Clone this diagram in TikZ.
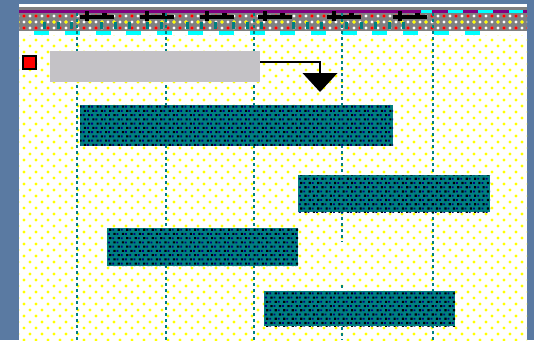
\documentclass[tikz,border=0pt]{standalone}
\usepackage{tikz}
\usetikzlibrary{positioning,shapes.geometric,patterns.meta}
\definecolor{deskblue}{HTML}{5A7AA2}
\definecolor{ganttteal}{HTML}{008080}
\definecolor{ganttnavy}{HTML}{000080}
\definecolor{summarygray}{HTML}{C4C2C6}
\definecolor{headpurple}{HTML}{800080}
\definecolor{headcyan}{HTML}{00FFFF}
\definecolor{dotyellow}{HTML}{FFFF00}
\tikzset{
  taskbar/.style={anchor=north west, inner sep=0pt, outer sep=0pt, fill=ganttteal,
    postaction={pattern={Dots[distance=6pt,radius=1.5pt,angle=45]}, pattern color=black},
    postaction={pattern={Dots[distance=6pt,radius=1.3pt,angle=45,xshift=3pt]}, pattern color=ganttnavy}},
  summarybar/.style={anchor=north west, inner sep=0pt, outer sep=0pt, fill=summarygray},
  gridline/.style={ganttteal, line width=2.8pt, dash pattern=on 3pt off 3pt},
  milestone/.style={isosceles triangle, isosceles triangle stretches, shape border rotate=270,
    fill=black, inner sep=0pt, outer sep=0pt},
}
\newcommand{\ganttbar}[5]{
  \node[taskbar, minimum width=#4, minimum height=#5] (#1) at (#2,#3) {};
}

\begin{document}
\begin{tikzpicture}[x=1pt,y=-1pt]
\useasboundingbox (0,0) rectangle (534,340);
\fill[deskblue] (0,0) rectangle (534,340);

% chart panel and header band
\fill[white] (19,4) rectangle (527,340);
\fill[gray] (19,7) rectangle (527,10);
\fill[headpurple] (19,10) rectangle (527,13);
\foreach \xa/\xb in {421/432, 448/463, 478/493, 509/523}
  \fill[headcyan] (\xa,10) rectangle (\xb,13);
\fill[gray] (19,13) rectangle (527,31);
\fill[pattern={Dots[distance=6pt,radius=1.6pt]}, pattern color=white] (19,13) rectangle (527,31);
\fill[pattern={Dots[distance=12pt,radius=1.8pt]}, pattern color=red] (19,13) rectangle (527,31);
\fill[pattern={Dots[distance=12pt,radius=1.8pt,xshift=6pt,yshift=6pt]}, pattern color=dotyellow] (19,13) rectangle (527,31);
\foreach \xa in {80,140,200,258,327,393}{
  \fill[black] (\xa,15) rectangle ++(34,4);
  \fill[black] (\xa+5,11) rectangle ++(4,10);
  \fill[black] (\xa+22,13) rectangle ++(5,6);
}
\foreach \xa in {43,57,70,100,114,128,146,160,186,200,214,232,246,260,292,306,320,345,360,374,388,402}
  \fill[ganttteal] (\xa,22) rectangle ++(3,7);
\foreach \xa in {34,65,96,126,157,188,219,250,280,311,342,372,403,434,465}
  \fill[headcyan] (\xa,31) rectangle ++(15,4);

% dotted background
\fill[pattern={Dots[distance=12pt,radius=1.6pt]}, pattern color=dotyellow] (19,35) rectangle (527,340);
\fill[pattern={Dots[distance=12pt,radius=1.6pt,xshift=6pt,yshift=6pt]}, pattern color=dotyellow] (19,35) rectangle (527,340);

% time grid
\foreach \xa in {77,166,254,433}
  \draw[gridline] (\xa,13) -- (\xa,340);
\draw[gridline] (342,13) -- (342,242);
\draw[gridline] (342,285) -- (342,340);

% tasks
\node[summarybar, minimum width=210pt, minimum height=31pt] (summary) at (50,51) {};
\node[draw=black, line width=2pt, fill=red, minimum size=13pt, inner sep=0pt] (marker) at (29.5,62.5) {};
\node[milestone, minimum width=35pt, minimum height=19pt, anchor=north] (finish) at (320,73) {};
\draw[black, line width=2pt] ([yshift=4.5pt]summary.east) -| (finish.north);
\ganttbar{taskA}{80}{105}{313pt}{41pt}
\ganttbar{taskB}{298}{175}{192pt}{37pt}
\ganttbar{taskC}{107}{228}{191pt}{38pt}
\ganttbar{taskD}{264}{291}{191pt}{35pt}
\end{tikzpicture}
\end{document}
